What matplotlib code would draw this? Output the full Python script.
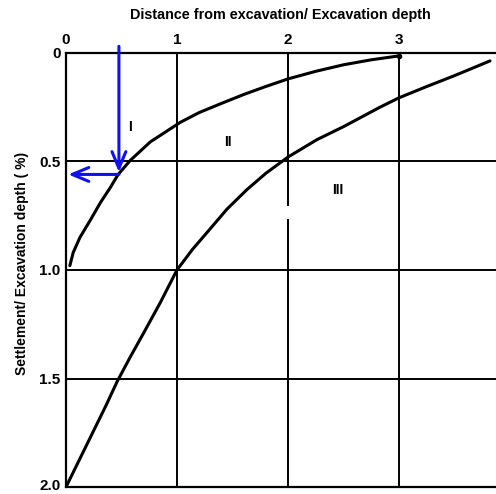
import matplotlib
matplotlib.use('Agg')
import matplotlib.pyplot as plt
import matplotlib.transforms as mtransforms

plt.rcParams['font.family'] = ['Liberation Sans', 'DejaVu Sans']

# curve between zones I and II
upper_x = [0.035, 0.065, 0.126, 0.22, 0.31, 0.40, 0.47, 0.58, 0.76, 1.03, 1.20, 1.39,
           1.60, 1.80, 2.00, 2.25, 2.50, 2.75, 3.00]
upper_y = [0.98, 0.92, 0.85, 0.77, 0.69, 0.62, 0.56, 0.495, 0.41, 0.32, 0.275, 0.235,
           0.192, 0.155, 0.12, 0.085, 0.055, 0.032, 0.014]

# curve between zones II and III
lower_x = [0.00, 0.12, 0.24, 0.36, 0.46, 0.58, 0.70, 0.85, 1.00, 1.14, 1.30, 1.45,
           1.63, 1.80, 2.00, 2.26, 2.50, 2.83, 3.00, 3.25, 3.50, 3.82]
lower_y = [2.00, 1.875, 1.75, 1.625, 1.515, 1.40, 1.29, 1.15, 1.00, 0.905, 0.81, 0.72,
           0.63, 0.555, 0.48, 0.40, 0.34, 0.25, 0.207, 0.155, 0.105, 0.037]

x_ticks = [0, 1, 2, 3]
y_ticks = [0, 0.5, 1.0, 1.5, 2.0]
y_tick_labels = ['0', '0.5', '1.0', '1.5', '2.0']

zones = ['I', 'II', 'III']
zone_x = [0.58, 1.46, 2.45]
zone_y = [0.34, 0.41, 0.63]

# reading example (blue arrows)
read_x = 0.477
read_y = 0.55

fig = plt.figure(figsize=(4.96, 4.94), dpi=100)
ax = fig.add_axes([0.133, 0.014, 0.867, 0.879])

ax.set_xlim(0, 3.874)
ax.set_ylim(2.0, 0)

# grid
for xv in x_ticks[1:]:
    if xv == 2:
        ax.plot([xv, xv], [0, 0.70], color='black', lw=1.4)
        ax.plot([xv, xv], [0.77, 2.0], color='black', lw=1.4)
    else:
        ax.axvline(xv, color='black', lw=1.4)
for yv in y_ticks[1:-1]:
    ax.axhline(yv, color='black', lw=1.4)

ax.plot(upper_x, upper_y, color='black', lw=2.2, solid_capstyle='round', solid_joinstyle='round')
ax.plot(lower_x, lower_y, color='black', lw=2.2, solid_capstyle='round', solid_joinstyle='round')
ax.plot([3.0], [0.014], 'o', color='black', ms=3)

for z, zx, zy in zip(zones, zone_x, zone_y):
    ax.text(zx, zy, z, ha='center', va='center', fontsize=10, fontweight='bold')

arrow_style = dict(arrowstyle='->,head_length=1.2,head_width=0.5',
                   color='#1010f0', lw=2.2, shrinkA=0, shrinkB=0)
ax.annotate('', xy=(read_x, read_y), xytext=(read_x, -0.03),
            arrowprops=arrow_style, annotation_clip=False)
ax.annotate('', xy=(0.02, read_y + 0.01), xytext=(read_x, read_y + 0.01),
            arrowprops=arrow_style)

for side in ['left', 'top', 'bottom']:
    ax.spines[side].set_linewidth(1.6)
ax.spines['right'].set_visible(False)

ax.xaxis.tick_top()
ax.set_xticks(x_ticks)
ax.set_xticklabels([str(v) for v in x_ticks], fontsize=11, fontweight='bold')
ax.set_yticks(y_ticks)
ax.set_yticklabels(y_tick_labels, fontsize=11, fontweight='bold', va='center_baseline')
ax.tick_params(length=0, pad=4)

# lift the bottom label a little so it stays inside the picture
fig.canvas.draw()
last = ax.get_yticklabels()[-1]
last.set_transform(last.get_transform() + mtransforms.ScaledTranslation(0, 3 / 100, fig.dpi_scale_trans))

ax.text(4.0, -0.06, '4', ha='center', va='bottom', fontsize=11, fontweight='bold',
        clip_on=False)

fig.text(0.565, 0.969, 'Distance from excavation/ Excavation depth', ha='center', va='center',
         fontsize=10.4, fontweight='bold')
fig.text(0.044, 0.467, 'Settlement/ Excavation depth ( %)', ha='center', va='center',
         rotation=90, fontsize=10, fontweight='bold')

fig.savefig('out.png', dpi=100)
